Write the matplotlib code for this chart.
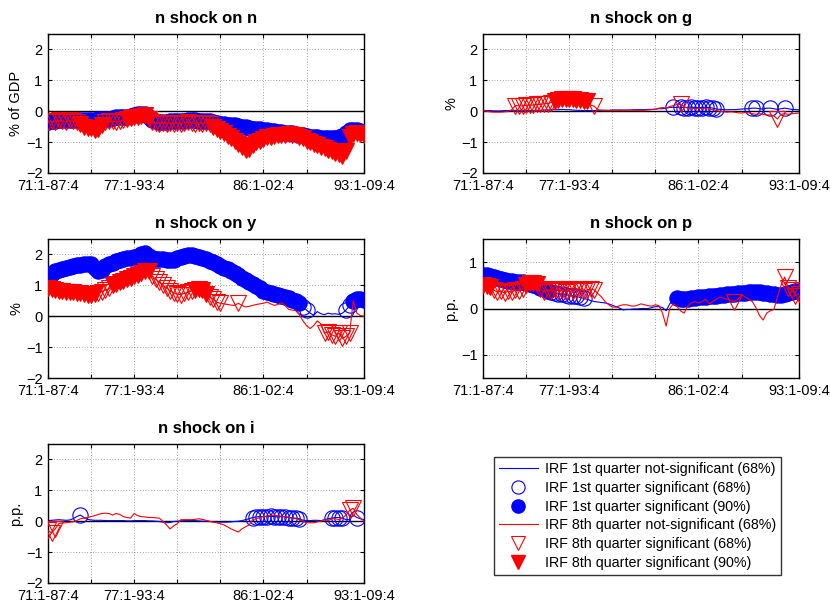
import numpy as np
import matplotlib
matplotlib.use("Agg")
import matplotlib.pyplot as plt
from matplotlib.lines import Line2D

plt.rcParams['font.family'] = ['Liberation Sans', 'DejaVu Sans']

# ---------------- data ----------------
xtick_pos = [0, 12, 24, 36, 48, 60, 72, 88]
xtick_labels = ['71:1-87:4', '', '77:1-93:4', '', '', '86:1-02:4', '', '93:1-09:4']

titles = ['n shock on n', 'n shock on g', 'n shock on y', 'n shock on p', 'n shock on i']
ylabels = ['% of GDP', '%', '%', 'p.p.', 'p.p.']

# IRF at 1st quarter (blue) and 8th quarter (red), one value per rolling window
n_b1 = [-0.35, -0.33, -0.32, -0.30, -0.30, -0.30, -0.28, -0.28, -0.27, -0.27,
        -0.28, -0.28, -0.27, -0.27, -0.26, -0.25, -0.25, -0.24, -0.22, -0.20,
        -0.20, -0.20, -0.18, -0.15, -0.12, -0.10, -0.08, -0.10, -0.20, -0.30,
        -0.33, -0.35, -0.35, -0.34, -0.33, -0.33, -0.32, -0.32, -0.32, -0.30,
        -0.30, -0.30, -0.31, -0.32, -0.32, -0.33, -0.35, -0.37, -0.40, -0.42,
        -0.43, -0.45, -0.46, -0.48, -0.50, -0.52, -0.55, -0.56, -0.57, -0.58,
        -0.60, -0.62, -0.64, -0.65, -0.66, -0.68, -0.70, -0.70, -0.72, -0.74,
        -0.76, -0.78, -0.80, -0.82, -0.84, -0.85, -0.86, -0.86, -0.87, -0.88,
        -0.88, -0.85, -0.80, -0.72, -0.62, -0.60, -0.62, -0.65, -0.68]
n_r8 = [-0.35, -0.33, -0.35, -0.30, -0.32, -0.35, -0.30, -0.33, -0.35, -0.40,
        -0.50, -0.55, -0.55, -0.60, -0.58, -0.45, -0.35, -0.33, -0.32, -0.35,
        -0.33, -0.30, -0.25, -0.22, -0.20, -0.18, -0.15, -0.12, -0.25, -0.35,
        -0.38, -0.40, -0.38, -0.40, -0.38, -0.40, -0.38, -0.40, -0.38, -0.36,
        -0.38, -0.40, -0.38, -0.40, -0.38, -0.40, -0.50, -0.58, -0.65, -0.72,
        -0.80, -0.88, -0.95, -1.05, -1.15, -1.25, -1.22, -1.10, -1.00, -0.95,
        -0.90, -0.85, -0.82, -0.80, -0.78, -0.77, -0.76, -0.75, -0.76, -0.78,
        -0.82, -0.88, -0.95, -1.00, -1.05, -1.10, -1.15, -1.20, -1.25, -1.30,
        -1.35, -1.40, -1.45, -1.30, -0.85, -0.75, -0.72, -0.75, -0.78]

g_b1 = [0.03, 0.02, 0.02, 0.01, 0.01, 0.01, 0.02, 0.02, 0.02, 0.03,
        0.03, 0.03, 0.03, 0.02, 0.02, 0.03, 0.03, 0.04, 0.04, 0.05,
        0.05, 0.05, 0.06, 0.05, 0.05, 0.04, 0.03, 0.03, 0.02, 0.02,
        0.02, 0.02, 0.03, 0.03, 0.03, 0.03, 0.04, 0.04, 0.04, 0.04,
        0.04, 0.04, 0.05, 0.05, 0.05, 0.05, 0.06, 0.06, 0.07, 0.08,
        0.08, 0.10, 0.12, 0.13, 0.12, 0.13, 0.12, 0.12, 0.13, 0.12,
        0.12, 0.12, 0.13, 0.12, 0.10, 0.07, 0.06, 0.05, 0.05, 0.05,
        0.05, 0.06, 0.07, 0.08, 0.08, 0.10, 0.10, 0.08, 0.07, 0.10,
        0.10, 0.08, 0.06, 0.08, 0.10, 0.08, 0.06, 0.05, 0.05]
g_r8 = [0.02, 0.00, -0.02, -0.03, -0.03, -0.03, -0.02, -0.01, 0.05, 0.18,
        0.18, 0.17, 0.19, 0.20, 0.20, 0.22, 0.22, 0.24, 0.25, 0.28,
        0.33, 0.36, 0.38, 0.38, 0.40, 0.38, 0.36, 0.35, 0.34, 0.33,
        0.20, 0.16, 0.05, 0.03, 0.03, 0.02, 0.02, 0.03, 0.03, 0.02,
        0.03, 0.04, 0.03, 0.03, 0.02, 0.03, 0.04, 0.05, 0.06, 0.10,
        0.12, 0.10, 0.15, 0.18, 0.22, 0.22, 0.15, 0.10, 0.10, 0.08,
        0.10, 0.08, 0.08, 0.07, 0.05, 0.02, 0.00, -0.02, -0.03, -0.02,
        -0.03, -0.05, -0.06, -0.04, -0.05, -0.08, -0.10, -0.08, -0.10, -0.12,
        -0.12, -0.15, -0.25, -0.10, -0.08, -0.10, -0.08, -0.07, -0.06]

y_b1 = [1.30, 1.38, 1.45, 1.50, 1.52, 1.55, 1.58, 1.62, 1.65, 1.65,
        1.68, 1.70, 1.68, 1.55, 1.45, 1.50, 1.62, 1.68, 1.72, 1.78,
        1.82, 1.86, 1.88, 1.90, 1.92, 1.95, 2.02, 2.05, 1.95, 1.88,
        1.86, 1.85, 1.85, 1.83, 1.82, 1.82, 1.88, 1.92, 1.96, 1.98,
        1.97, 1.95, 1.92, 1.88, 1.85, 1.80, 1.76, 1.70, 1.62, 1.55,
        1.52, 1.48, 1.40, 1.32, 1.25, 1.18, 1.10, 1.05, 0.98, 0.90,
        0.82, 0.79, 0.75, 0.72, 0.68, 0.65, 0.62, 0.58, 0.52, 0.48,
        0.44, 0.30, 0.20, 0.10, 0.03, 0.15, 0.08, 0.05, 0.10, 0.07,
        0.08, 0.06, 0.10, 0.20, 0.35, 0.50, 0.55, 0.55, 0.52]
y_r8 = [0.90, 0.88, 0.85, 0.83, 0.82, 0.80, 0.80, 0.78, 0.76, 0.75,
        0.72, 0.70, 0.70, 0.72, 0.75, 0.80, 0.85, 0.90, 1.00, 1.05,
        1.10, 1.15, 1.20, 1.25, 1.30, 1.35, 1.40, 1.45, 1.45, 1.30,
        1.20, 1.10, 1.00, 0.92, 0.82, 0.75, 0.72, 0.70, 0.74, 0.78,
        0.82, 0.86, 0.88, 0.85, 0.72, 0.62, 0.55, 0.45, 0.42, 0.40,
        0.38, 0.36, 0.35, 0.42, 0.35, 0.30, 0.32, 0.35, 0.38, 0.40,
        0.42, 0.46, 0.40, 0.35, 0.38, 0.44, 0.35, 0.22, 0.20, 0.18,
        0.05, -0.15, -0.30, -0.40, -0.30, -0.15, -0.25, -0.55, -0.50, -0.60,
        -0.65, -0.55, -0.72, -0.65, -0.55, 0.50, 0.10, 0.02, 0.00]

p_b1 = [0.73, 0.72, 0.70, 0.68, 0.66, 0.63, 0.62, 0.60, 0.59, 0.58,
        0.58, 0.57, 0.55, 0.52, 0.50, 0.48, 0.45, 0.42, 0.38, 0.35,
        0.33, 0.32, 0.31, 0.30, 0.28, 0.27, 0.26, 0.24, 0.22, 0.20,
        0.17, 0.15, 0.14, 0.13, 0.12, 0.10, 0.07, 0.04, 0.01, -0.03,
        -0.02, -0.02, -0.01, -0.01, 0.00, 0.00, 0.00, 0.02, 0.04, 0.04,
        0.02, -0.05, 0.10, 0.19, 0.22, 0.20, 0.20, 0.21, 0.22, 0.23,
        0.24, 0.25, 0.25, 0.26, 0.27, 0.28, 0.30, 0.30, 0.31, 0.32,
        0.32, 0.33, 0.33, 0.34, 0.35, 0.35, 0.36, 0.35, 0.34, 0.33,
        0.32, 0.31, 0.30, 0.30, 0.32, 0.34, 0.36, 0.37, 0.38]
p_r8 = [0.50, 0.48, 0.47, 0.40, 0.35, 0.38, 0.33, 0.38, 0.35, 0.40,
        0.38, 0.42, 0.50, 0.55, 0.55, 0.52, 0.42, 0.35, 0.40, 0.38,
        0.42, 0.38, 0.40, 0.36, 0.42, 0.38, 0.40, 0.42, 0.38, 0.40,
        0.42, 0.40, 0.32, 0.25, 0.15, 0.08, 0.03, 0.03, 0.06, 0.08,
        0.08, 0.06, 0.05, 0.07, 0.10, 0.08, 0.06, 0.05, 0.08, 0.06,
        -0.10, -0.38, 0.00, 0.10, 0.05, -0.05, -0.10, 0.05, 0.12, 0.15,
        0.12, 0.15, 0.20, 0.10, 0.15, 0.20, 0.25, 0.22, 0.20, 0.18,
        0.15, 0.20, 0.30, 0.25, 0.20, 0.15, 0.02, -0.15, -0.25, -0.10,
        -0.05, -0.02, 0.25, 0.50, 0.68, 0.45, 0.40, 0.28, 0.32]

i_b1 = [0.02, 0.03, 0.04, 0.05, 0.04, 0.03, 0.04, 0.08, 0.15, 0.20,
        0.12, 0.06, 0.04, 0.03, 0.03, 0.03, 0.02, 0.02, 0.02, 0.02,
        0.02, 0.02, 0.01, 0.01, 0.02, 0.02, 0.02, 0.02, 0.01, 0.01,
        0.00, -0.01, -0.03, -0.05, -0.04, -0.01, 0.00, 0.01, 0.02, 0.02,
        0.02, 0.02, 0.01, 0.00, 0.00, -0.01, -0.02, -0.03, -0.03, -0.03,
        -0.03, -0.02, -0.01, 0.00, 0.02, 0.05, 0.08, 0.12, 0.14, 0.15,
        0.15, 0.15, 0.16, 0.15, 0.14, 0.15, 0.14, 0.12, 0.10, 0.10,
        0.08, 0.03, 0.02, 0.02, 0.03, 0.03, 0.02, 0.05, 0.08, 0.10,
        0.12, 0.12, 0.10, 0.05, 0.05, 0.20, 0.12, 0.08, 0.05]
i_r8 = [-0.30, -0.38, -0.25, -0.08, -0.05, -0.05, -0.03, -0.02, 0.02, 0.08,
        0.10, 0.12, 0.15, 0.18, 0.22, 0.25, 0.26, 0.25, 0.20, 0.25,
        0.22, 0.15, 0.12, 0.10, 0.25, 0.18, 0.15, 0.14, 0.12, 0.12,
        0.11, 0.10, 0.00, -0.12, -0.25, -0.15, -0.08, 0.05, 0.05, 0.05,
        0.05, 0.06, 0.08, 0.06, 0.03, 0.00, -0.03, -0.05, -0.08, -0.12,
        -0.18, -0.25, -0.30, -0.35, -0.25, -0.18, -0.12, 0.05, 0.08, 0.12,
        0.15, 0.17, 0.18, 0.20, 0.18, 0.16, 0.15, 0.13, 0.10, 0.08,
        0.05, 0.00, -0.05, -0.05, -0.05, -0.02, 0.00, 0.05, 0.02, 0.08,
        0.08, 0.05, 0.10, 0.20, 0.35, 0.42, 0.22, 0.10, 0.00]

# significance: index ranges (inclusive) where 68% / 90% bands exclude zero
n_b1_sig68 = []
n_b1_sig90 = [(0, 88)]
n_r8_sig68 = [(0, 8), (16, 21), (29, 45)]
n_r8_sig90 = [(9, 15), (22, 28), (46, 88)]

g_b1_sig68 = [(53, 53), (55, 65), (75, 76), (80, 80), (84, 84)]
g_b1_sig90 = []
g_r8_sig68 = [(9, 19), (31, 31), (55, 55), (82, 82)]
g_r8_sig90 = [(20, 29)]

y_b1_sig68 = [(71, 72), (83, 84)]
y_b1_sig90 = [(0, 70), (85, 88)]
y_r8_sig68 = [(14, 17), (29, 40), (45, 48), (53, 53), (77, 84)]
y_r8_sig90 = [(0, 13), (18, 28), (41, 44)]

p_b1_sig68 = [(19, 28)]
p_b1_sig90 = [(0, 18), (54, 88)]
p_r8_sig68 = [(3, 11), (16, 31), (70, 70), (84, 88)]
p_r8_sig90 = [(0, 2), (12, 15)]

i_b1_sig68 = [(9, 9), (57, 70), (79, 82), (86, 86)]
i_b1_sig90 = []
i_r8_sig68 = [(0, 2), (84, 85)]
i_r8_sig90 = []

legend_labels = ['IRF 1st quarter not-significant (68%)',
                 'IRF 1st quarter significant (68%)',
                 'IRF 1st quarter significant (90%)',
                 'IRF 8th quarter not-significant (68%)',
                 'IRF 8th quarter significant (68%)',
                 'IRF 8th quarter significant (90%)']

# ---------------- plotting ----------------
BLUE = '#0000ff'
RED = '#ff0000'
N = 89
xs = np.arange(N)


def mask_of(ranges):
    m = np.zeros(N, dtype=bool)
    for a, b in ranges:
        m[a:b + 1] = True
    return m


panels = [
    (n_b1, n_r8, n_b1_sig68, n_b1_sig90, n_r8_sig68, n_r8_sig90, (-2, 2.5), [-2, -1, 0, 1, 2]),
    (g_b1, g_r8, g_b1_sig68, g_b1_sig90, g_r8_sig68, g_r8_sig90, (-2, 2.5), [-2, -1, 0, 1, 2]),
    (y_b1, y_r8, y_b1_sig68, y_b1_sig90, y_r8_sig68, y_r8_sig90, (-2, 2.5), [-2, -1, 0, 1, 2]),
    (p_b1, p_r8, p_b1_sig68, p_b1_sig90, p_r8_sig68, p_r8_sig90, (-1.5, 1.5), [-1, 0, 1]),
    (i_b1, i_r8, i_b1_sig68, i_b1_sig90, i_r8_sig68, i_r8_sig90, (-2, 2.5), [-2, -1, 0, 1, 2]),
]

W, H = 830, 608
fig = plt.figure(figsize=(W / 100, H / 100), dpi=100)

col_left = [48, 483]
col_w = 316
row_top = [34, 239, 444]
row_h = 139

MS = 11

for k, (b1, r8, bs68, bs90, rs68, rs90, ylim, yticks) in enumerate(panels):
    r, c = divmod(k, 2)
    l = col_left[c] / W
    bot = 1 - (row_top[r] + row_h) / H
    ax = fig.add_axes([l, bot, col_w / W, row_h / H])
    b1 = np.asarray(b1)
    r8 = np.asarray(r8)
    assert len(b1) == N and len(r8) == N

    ax.axhline(0, color='black', lw=1.0, zorder=1)
    ax.plot(xs, b1, color=BLUE, lw=0.8, zorder=2)
    m = mask_of(bs68)
    ax.plot(xs[m], b1[m], ls='none', marker='o', ms=MS, mfc='none', mec=BLUE, mew=0.8, zorder=3)
    m = mask_of(bs90)
    ax.plot(xs[m], b1[m], ls='none', marker='o', ms=MS, mfc=BLUE, mec=BLUE, mew=0.8, zorder=3)
    ax.plot(xs, r8, color=RED, lw=0.8, zorder=4)
    m = mask_of(rs68)
    ax.plot(xs[m], r8[m], ls='none', marker='v', ms=MS, mfc='none', mec=RED, mew=0.8, zorder=5)
    m = mask_of(rs90)
    ax.plot(xs[m], r8[m], ls='none', marker='v', ms=MS, mfc=RED, mec=RED, mew=0.8, zorder=5)

    ax.set_xlim(0, 88)
    ax.set_ylim(*ylim)
    ax.set_yticks(yticks)
    ax.set_xticks(xtick_pos)
    ax.set_xticklabels(xtick_labels)
    ax.grid(True, color='black', lw=0.5, ls=(0, (1, 3)), alpha=0.7)
    ax.tick_params(direction='in', length=3, labelsize=10.5, top=True, right=True, pad=4)
    for s in ax.spines.values():
        s.set_linewidth(1.0)
    ax.set_title(titles[k], fontsize=12, fontweight='bold', pad=8)
    ax.set_ylabel(ylabels[k], fontsize=10.5, labelpad=2)

handles = [
    Line2D([], [], color=BLUE, lw=0.8),
    Line2D([], [], ls='none', marker='o', ms=9.5, mfc='none', mec=BLUE, mew=0.8),
    Line2D([], [], ls='none', marker='o', ms=9.5, mfc=BLUE, mec=BLUE),
    Line2D([], [], color=RED, lw=0.8),
    Line2D([], [], ls='none', marker='v', ms=9.5, mfc='none', mec=RED, mew=0.8),
    Line2D([], [], ls='none', marker='v', ms=9.5, mfc=RED, mec=RED),
]
leg = fig.legend(handles, legend_labels, loc='center',
                 bbox_to_anchor=((493 + 782) / 2 / W, 1 - (457 + 575) / 2 / H),
                 fontsize=10.3, frameon=True, fancybox=False, edgecolor='black',
                 handlelength=2.7, labelspacing=0.33, borderpad=0.35, handletextpad=0.5)
leg.get_frame().set_linewidth(1.0)

fig.savefig('out.png', dpi=100)
